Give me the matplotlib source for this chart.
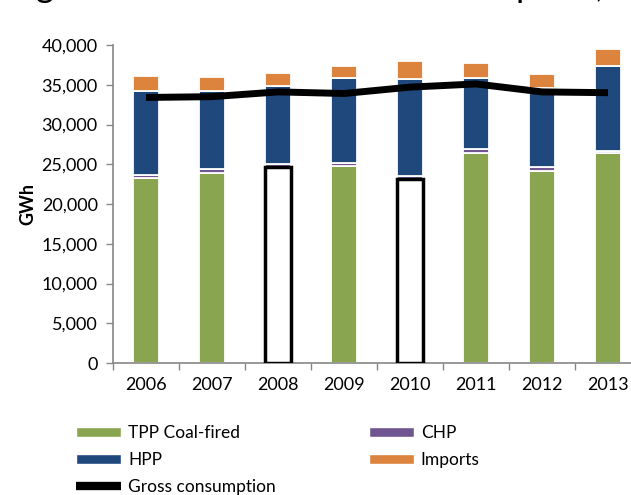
import matplotlib
matplotlib.use("Agg")
import matplotlib.pyplot as plt
from matplotlib.patches import Patch
from matplotlib.lines import Line2D
from matplotlib.ticker import FuncFormatter, MultipleLocator
import numpy as np

plt.rcParams["font.family"] = ["Lato", "DejaVu Sans"]

# ── Data (GWh) ─────────────────────────────────────────────────────────────
years = ["2006", "2007", "2008", "2009", "2010", "2011", "2012", "2013"]
tpp_coal = [23300, 23900, 24700, 24800, 23100, 26400, 24200, 26400]
chp      = [300, 500, 300, 300, 400, 500, 500, 300]
hpp      = [10600, 9800, 9900, 10800, 12200, 9000, 9900, 10600]
imports  = [1900, 1800, 1600, 1400, 2300, 1800, 1800, 2200]
gross_consumption = [33400, 33500, 34100, 33900, 34700, 35100, 34100, 34000]
hollow_years = ["2008", "2010"]   # TPP drawn as empty outlined boxes
title = "Figure 1: Generation and consumption, GWh"

C_TPP = "#8aa550"
C_CHP = "#6f5691"
C_HPP = "#1f497d"
C_IMP = "#dc843e"
C_AX = "#868686"

fig = plt.figure(figsize=(6.31, 4.95), dpi=100)
ax = fig.add_axes([113 / 631, 1 - 363 / 495, 528 / 631, 318 / 495])

x = np.arange(len(years))
w = 0.38
tpp = np.array(tpp_coal, dtype=float)
c = np.array(chp, dtype=float)
h = np.array(hpp, dtype=float)
imp = np.array(imports, dtype=float)
total = tpp + c + h + imp

# faint shadow behind the stacks
ax.bar(x, total, width=w + 0.04, color="#ececec", zorder=1)

edge = dict(edgecolor="white", linewidth=1.3, zorder=2)
hollow = np.array([y in hollow_years for y in years])
ax.bar(x[~hollow], tpp[~hollow], width=w, color=C_TPP, **edge)
ax.bar(x[hollow], tpp[hollow], width=w, color="white", edgecolor="black",
       linewidth=2.5, zorder=3)
ax.bar(x, c, bottom=tpp, width=w, color=C_CHP, **edge)
ax.bar(x, h, bottom=tpp + c, width=w, color=C_HPP, **edge)
ax.bar(x, imp, bottom=tpp + c + h, width=w, color=C_IMP, **edge)

ax.plot(x, gross_consumption, color="black", linewidth=5, zorder=4,
        solid_capstyle="butt")

ax.set_xlim(-0.5, len(years) - 0.5)
ax.set_ylim(0, 40000)
ax.yaxis.set_major_locator(MultipleLocator(5000))
ax.yaxis.set_major_formatter(FuncFormatter(lambda v, p: f"{int(v):,}"))
ax.set_xticks(x)
ax.set_xticklabels(years)
ax.set_xticks(np.arange(-0.5, len(years), 1), minor=True)
ax.tick_params(axis="x", which="major", length=0, pad=10, labelsize=13)
ax.tick_params(axis="x", which="minor", length=5, color=C_AX, width=1)
ax.tick_params(axis="y", length=5, color=C_AX, width=1, labelsize=13, pad=6)
for s in ["top", "right"]:
    ax.spines[s].set_visible(False)
for s in ["left", "bottom"]:
    ax.spines[s].set_color(C_AX)
    ax.spines[s].set_linewidth(1.2)
ax.set_ylabel("GWh", fontsize=13, fontweight="bold", labelpad=4)

# title: only its lowest strip shows at the top edge, as in the source.
# size it so "gure ... consumption" spans ~560 px with "g" starting near x=36
r = fig.canvas.get_renderer()
def text_w(s, fs):
    t = fig.text(0, 0, s, fontsize=fs)
    wpx = t.get_window_extent(r).width
    t.remove()
    return wpx
fs0 = 20
span = text_w("Figure 1: Generation and consumption", fs0) - text_w("Fi", fs0)
fs = fs0 * 560 / span
x0 = 36 - text_w("Fi", fs)
fig.text(x0 / 631, 1 + 3 / 495, title, fontsize=fs, ha="left", va="baseline")

handles = [
    Patch(facecolor=C_TPP, edgecolor="white"),
    Patch(facecolor=C_HPP, edgecolor="white"),
    Line2D([], [], color="black", linewidth=6, solid_capstyle="butt"),
    Patch(facecolor=C_CHP, edgecolor="white"),
    Patch(facecolor=C_IMP, edgecolor="white"),
]
labels = ["TPP Coal-fired", "HPP", "Gross consumption", "CHP", "Imports"]
fig.legend(handles, labels, ncol=2, loc="upper left",
           bbox_to_anchor=(76 / 631, 1 - 425 / 495), frameon=False,
           fontsize=12.5, handlelength=2.6, handleheight=0.5,
           handletextpad=0.4, labelspacing=0.62, columnspacing=5.35,
           borderaxespad=0, borderpad=0)

fig.savefig("out.png", dpi=100)
